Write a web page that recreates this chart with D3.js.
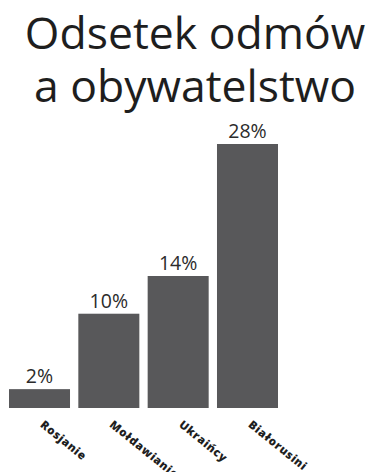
<!DOCTYPE html>
<html>
<head>
<meta charset="utf-8">
<script src="https://cdn.jsdelivr.net/npm/d3@7"></script>
<style>
  html, body { margin: 0; padding: 0; background: #fff; }
  svg { display: block; }
</style>
</head>
<body>
<script>
// Share of refused applications by citizenship
const titleLines = ["Odsetek odmów", "a obywatelstwo"];
const categories = ["Rosjanie", "Mołdawianie", "Ukraińcy", "Białorusini"];
const values = [2, 10, 14, 28];
const valueLabels = ["2%", "10%", "14%", "28%"];

const width = 373, height = 472;
const svg = d3.select("body").append("svg")
  .attr("width", width).attr("height", height);

// Two-line title
svg.append("text")
  .attr("text-anchor", "middle")
  .attr("font-family", "'Open Sans', sans-serif")
  .attr("font-size", 44.5)
  .attr("fill", "#1e1e1e")
  .selectAll("tspan")
  .data(titleLines)
  .join("tspan")
  .attr("x", 195)
  .attr("y", (d, i) => 49 + i * 53)
  .text(d => d);

const x = d3.scaleBand()
  .domain(categories)
  .range([9, 278])
  .paddingInner(0.12)
  .paddingOuter(0);

const y = d3.scaleLinear()
  .domain([0, 28])
  .range([408, 144]);

const data = categories.map((c, i) => ({ c, v: values[i], label: valueLabels[i] }));

// Bars
svg.append("g").selectAll("rect")
  .data(data)
  .join("rect")
  .attr("x", d => x(d.c))
  .attr("y", d => y(d.v))
  .attr("width", x.bandwidth())
  .attr("height", d => y(0) - y(d.v))
  .attr("fill", "#58585a");

// Value labels
svg.append("g").selectAll("text")
  .data(data)
  .join("text")
  .attr("x", d => x(d.c) + x.bandwidth() / 2)
  .attr("y", d => y(d.v) - 6)
  .attr("text-anchor", "middle")
  .attr("font-family", "'Open Sans', sans-serif")
  .attr("font-size", 19.5)
  .attr("fill", "#2b2b2b")
  .text(d => d.label);

// Category axis with rotated labels
const axis = svg.append("g")
  .attr("transform", `translate(0,${y(0)})`)
  .call(d3.axisBottom(x).tickSize(0).tickPadding(0));
axis.select(".domain").remove();
axis.selectAll("text")
  .attr("font-family", "'Open Sans', sans-serif")
  .attr("font-weight", 800)
  .attr("font-size", 11.5)
  .attr("letter-spacing", 0.6)
  .attr("fill", "#1e1e1e")
  .attr("text-anchor", "start")
  .attr("dy", null)
  .attr("transform", "translate(0,18) rotate(39)");
</script>
</body>
</html>
